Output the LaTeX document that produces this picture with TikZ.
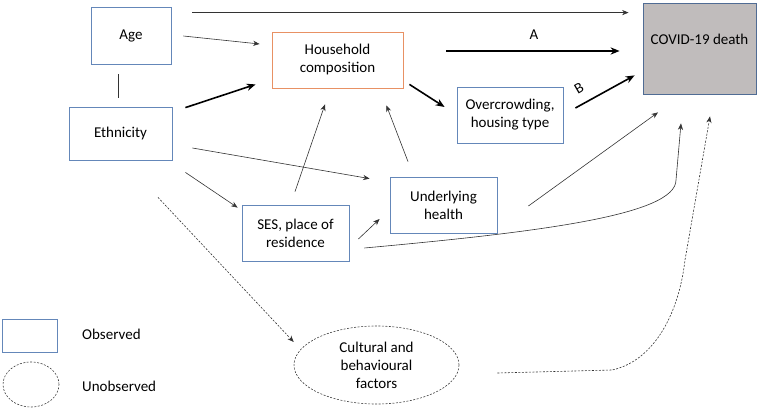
\documentclass[tikz,border=0pt]{standalone}
\usepackage{fontspec}
\setmainfont{Carlito}
\usetikzlibrary{arrows.meta,shapes.geometric}
\definecolor{bordo}{RGB}{100,135,185}
\definecolor{arancio}{RGB}{232,145,100}
\definecolor{grigio}{RGB}{192,188,188}
\tikzset{
>={Stealth[length=5pt 2.5,width=4pt 2]},
box node/.style={rectangle,draw=bordo,line width=0.8pt,align=center,inner sep=2pt},
oval node/.style={ellipse,draw=black!75,line width=0.6pt,dash pattern=on 2pt off 1.5pt,align=center,inner sep=1pt},
freccia/.style={->,line width=0.6pt,black!80},
freccia spessa/.style={->,line width=1.6pt,black},
tratteggio/.style={->,line width=0.6pt,black!80,dash pattern=on 2pt off 1.5pt}}

\begin{document}
\begin{tikzpicture}[x=1pt,y=-1pt,font=\fontsize{15}{18}\selectfont]

\useasboundingbox (0,0) rectangle (760,409);

\node[box node,minimum width=80pt,minimum height=57pt] (age) at (131,35.5) {Age};
\node[box node,minimum width=103pt,minimum height=53pt] (ethn) at (120.5,133.5) {Ethnicity};
\node[box node,draw=arancio,minimum width=131pt,minimum height=56pt] (house) at (337.5,60) {Household\\composition};
\node[box node,minimum width=107pt,minimum height=56pt] (ses) at (295.5,233) {SES, place of\\residence};
\node[box node,minimum width=107pt,minimum height=56pt] (health) at (443.5,205) {Underlying\\health};
\node[box node,minimum width=106pt,minimum height=56pt] (crowd) at (510,115) {Overcrowding,\\housing type};
\node[box node,fill=grigio,draw=bordo!80!black,minimum width=113pt,minimum height=91pt] (death) at (699.5,48.5) {};
\node (deathtxt) at ([yshift=9.5pt]death.center) {COVID-19 death};
\node[oval node,minimum width=165pt,minimum height=78pt] (cult) at (376.5,365) {Cultural and\\behavioural\\factors};

\node[box node,minimum width=55pt,minimum height=33pt] (obs) at (29.5,335.5) {};
\node[oval node,minimum width=56pt,minimum height=45pt] (unobs) at (31,384.5) {};
\node[anchor=west,inner sep=0pt] (obstxt) at (82,334) {Observed};
\node[anchor=west,inner sep=0pt] (unobstxt) at (82,386) {Unobserved};

\node (A) at (534,35) {A};
\node[rotate=30] (B) at (579,88) {B};

\path[freccia]
	([shift={(21,6)}]age.north east) edge ([shift={(-14,10)}]death.north west)
	([shift={(12,0.5)}]age.east) edge ([shift={(-12,-16)}]house.west)
	([shift={(20,14.5)}]ethn.east) edge ([shift={(-20,2)}]health.north west)
	([shift={(13,12)}]ethn.south east) edge ([shift={(-4,3)}]ses.north west)
	([shift={(-0.5,-13)}]ses.north) edge ([shift={(-12.5,16)}]house.south)
	([shift={(9,6)}]ses.east) edge ([shift={(-10,14)}]health.west)
	([shift={(-35.5,-15)}]health.north) edge ([shift={(-17,17)}]house.south east)
	([shift={(31,1)}]health.east) edge ([shift={(-41.5,18)}]death.south);
\draw[line width=0.6pt,black!80] ([shift={(-13,10)}]age.south) -- ([shift={(-2.5,-9)}]ethn.north);
\path[freccia spessa]
	([shift={(13,1)}]ethn.north east) edge ([shift={(-16,-4)}]house.south west)
	([shift={(6,-4)}]house.south east) edge ([shift={(-12,-8)}]crowd.west)
	([shift={(43,-9)}]house.east) edge ([shift={(-23,2.5)}]death.west)
	([shift={(12,-7)}]crowd.east) edge ([shift={(-8,-19)}]death.south west);
\draw[freccia] ([shift={(15,15)}]ses.east) .. controls (540,232) and (676,215) .. (676,180) -- ([shift={(-18.5,29)}]death.south);
\path[tratteggio] ([shift={(37.5,37)}]ethn.south) edge ([shift={(0,-23)}]cult.west);
\draw[tratteggio] ([shift={(38,8)}]cult.east) -- (612,370) .. controls (650,362) and (678,320) .. (685,260) -- ([shift={(10.5,22)}]death.south);
\end{tikzpicture}
\end{document}
